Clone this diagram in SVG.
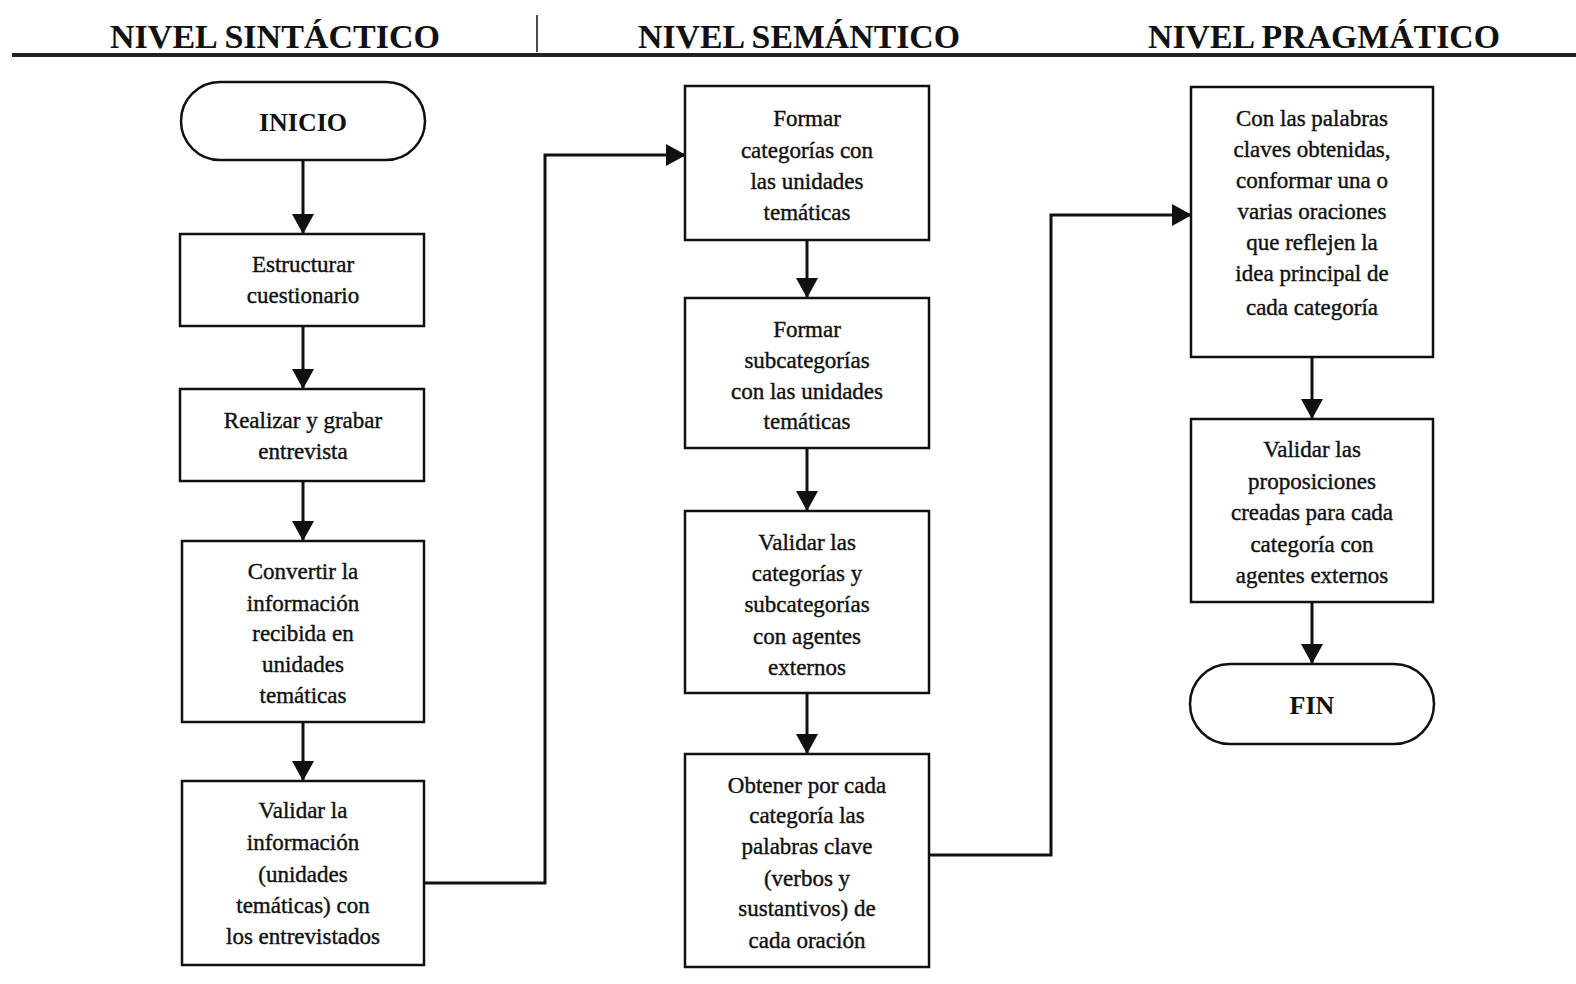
<svg xmlns="http://www.w3.org/2000/svg" width="1576" height="984" viewBox="0 0 1576 984">
  <style>
    .head { font-family: "Liberation Serif", "Times New Roman", serif; font-weight: bold; font-size: 34px; fill: #111; }
    .box { fill: #fff; stroke: #111; stroke-width: 2.5; }
    .lbl { font-family: "Liberation Serif", "Times New Roman", serif; font-size: 23px; fill: #111; text-anchor: middle; stroke: #111; stroke-width: 0.4; }
    .term { font-family: "Liberation Serif", "Times New Roman", serif; font-weight: bold; font-size: 26px; fill: #111; text-anchor: middle; }
    .conn { fill: none; stroke: #111; stroke-width: 3; }
  </style>
  <defs>
    <marker id="arrow" markerUnits="userSpaceOnUse" markerWidth="24" markerHeight="22" refX="20" refY="11" orient="auto">
      <path d="M0,0 L20,11 L0,22 Z" fill="#111"/>
    </marker>
  </defs>
  <rect width="1576" height="984" fill="#fff"/>

  <!-- column headers -->
  <g id="headers">
    <text class="head" x="110" y="48" textLength="330" lengthAdjust="spacingAndGlyphs">NIVEL SINTÁCTICO</text>
    <text class="head" x="638" y="48" textLength="322" lengthAdjust="spacingAndGlyphs">NIVEL SEMÁNTICO</text>
    <text class="head" x="1148" y="48" textLength="352" lengthAdjust="spacingAndGlyphs">NIVEL PRAGMÁTICO</text>
    <line x1="537" y1="15" x2="537" y2="52" stroke="#111" stroke-width="1.5"/>
    <rect x="12" y="53" width="1564" height="4" fill="#222"/>
  </g>

  <!-- connectors -->
  <g id="connectors">
    <path class="conn" d="M303,160 L303,234" marker-end="url(#arrow)"/>
    <path class="conn" d="M303,326 L303,389" marker-end="url(#arrow)"/>
    <path class="conn" d="M303,481 L303,541" marker-end="url(#arrow)"/>
    <path class="conn" d="M303,722 L303,781" marker-end="url(#arrow)"/>
    <path class="conn" d="M424,883 L545,883 L545,155 L686,155" marker-end="url(#arrow)"/>
    <path class="conn" d="M807,240 L807,298" marker-end="url(#arrow)"/>
    <path class="conn" d="M807,448 L807,511" marker-end="url(#arrow)"/>
    <path class="conn" d="M807,693 L807,754" marker-end="url(#arrow)"/>
    <path class="conn" d="M929,855 L1051,855 L1051,215 L1192,215" marker-end="url(#arrow)"/>
    <path class="conn" d="M1312,357 L1312,419" marker-end="url(#arrow)"/>
    <path class="conn" d="M1312,602 L1312,664" marker-end="url(#arrow)"/>
  </g>

  <!-- syntactic level -->
  <g id="inicio">
    <rect class="box" x="181" y="82" width="244" height="78" rx="39" ry="39"/>
    <text class="term" x="303" y="131">INICIO</text>
  </g>
  <g id="estructurar">
    <rect class="box" x="180" y="234" width="244" height="92"/>
    <text class="lbl" x="303" y="272">Estructurar</text>
    <text class="lbl" x="303" y="303">cuestionario</text>
  </g>
  <g id="entrevista">
    <rect class="box" x="180" y="389" width="244" height="92"/>
    <text class="lbl" x="303" y="428">Realizar y grabar</text>
    <text class="lbl" x="303" y="459">entrevista</text>
  </g>
  <g id="convertir">
    <rect class="box" x="182" y="541" width="242" height="181"/>
    <text class="lbl" x="303" y="579">Convertir la</text>
    <text class="lbl" x="303" y="611">información</text>
    <text class="lbl" x="303" y="641">recibida en</text>
    <text class="lbl" x="303" y="672">unidades</text>
    <text class="lbl" x="303" y="703">temáticas</text>
  </g>
  <g id="validar-info">
    <rect class="box" x="182" y="781" width="242" height="184"/>
    <text class="lbl" x="303" y="818">Validar la</text>
    <text class="lbl" x="303" y="850">información</text>
    <text class="lbl" x="303" y="882">(unidades</text>
    <text class="lbl" x="303" y="913">temáticas) con</text>
    <text class="lbl" x="303" y="944">los entrevistados</text>
  </g>

  <!-- semantic level -->
  <g id="categorias">
    <rect class="box" x="685" y="86" width="244" height="154"/>
    <text class="lbl" x="807" y="126">Formar</text>
    <text class="lbl" x="807" y="158">categorías con</text>
    <text class="lbl" x="807" y="189">las unidades</text>
    <text class="lbl" x="807" y="220">temáticas</text>
  </g>
  <g id="subcategorias">
    <rect class="box" x="685" y="298" width="244" height="150"/>
    <text class="lbl" x="807" y="337">Formar</text>
    <text class="lbl" x="807" y="368">subcategorías</text>
    <text class="lbl" x="807" y="399">con las unidades</text>
    <text class="lbl" x="807" y="429">temáticas</text>
  </g>
  <g id="validar-cat">
    <rect class="box" x="685" y="511" width="244" height="182"/>
    <text class="lbl" x="807" y="550">Validar las</text>
    <text class="lbl" x="807" y="581">categorías y</text>
    <text class="lbl" x="807" y="612">subcategorías</text>
    <text class="lbl" x="807" y="644">con agentes</text>
    <text class="lbl" x="807" y="675">externos</text>
  </g>
  <g id="palabras-clave">
    <rect class="box" x="685" y="754" width="244" height="213"/>
    <text class="lbl" x="807" y="793">Obtener por cada</text>
    <text class="lbl" x="807" y="823">categoría las</text>
    <text class="lbl" x="807" y="854">palabras clave</text>
    <text class="lbl" x="807" y="886">(verbos y</text>
    <text class="lbl" x="807" y="916">sustantivos) de</text>
    <text class="lbl" x="807" y="948">cada oración</text>
  </g>

  <!-- pragmatic level -->
  <g id="oraciones">
    <rect class="box" x="1191" y="87" width="242" height="270"/>
    <text class="lbl" x="1312" y="126">Con las palabras</text>
    <text class="lbl" x="1312" y="157">claves obtenidas,</text>
    <text class="lbl" x="1312" y="188">conformar una o</text>
    <text class="lbl" x="1312" y="219">varias oraciones</text>
    <text class="lbl" x="1312" y="250">que reflejen la</text>
    <text class="lbl" x="1312" y="281">idea principal de</text>
    <text class="lbl" x="1312" y="315">cada categoría</text>
  </g>
  <g id="validar-prop">
    <rect class="box" x="1191" y="419" width="242" height="183"/>
    <text class="lbl" x="1312" y="457">Validar las</text>
    <text class="lbl" x="1312" y="489">proposiciones</text>
    <text class="lbl" x="1312" y="520">creadas para cada</text>
    <text class="lbl" x="1312" y="552">categoría con</text>
    <text class="lbl" x="1312" y="583">agentes externos</text>
  </g>
  <g id="fin">
    <rect class="box" x="1190" y="664" width="244" height="80" rx="40" ry="40"/>
    <text class="term" x="1312" y="714">FIN</text>
  </g>
</svg>
